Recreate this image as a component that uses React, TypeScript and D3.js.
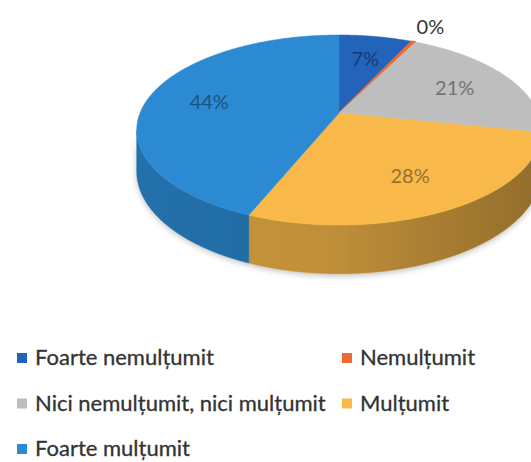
import React from 'react';
import * as d3 from 'd3';

const categories = [
  'Foarte nemulțumit',
  'Nemulțumit',
  'Nici nemulțumit, nici mulțumit',
  'Mulțumit',
  'Foarte mulțumit',
];
const values = [7, 0.4, 21, 28, 44];
const valueLabels = ['7%', '0%', '21%', '28%', '44%'];
const sliceColors = ['#2363BA', '#EE6A2E', '#BEBEBE', '#F9B94A', '#2C8AD3'];

const W = 531;
const H = 462;
// projected pie geometry (perspective ellipse)
const CX = 339;
const CY = 113;
const RX = 199;
const RY = 92;
const K = -0.179;
const DEPTH = 40;

function proj(theta: number, r: number, z = 0): [number, number] {
  const u = r * Math.sin(theta);
  const v = -r * Math.cos(theta);
  const den = 1 + K * v;
  return [CX + (RX * u) / den, CY + (RY * v) / den + (z * DEPTH) / den];
}

function arcPoints(a0: number, a1: number, r: number, z = 0): [number, number][] {
  const n = Math.max(2, Math.ceil((a1 - a0) / 0.01));
  const pts: [number, number][] = [];
  for (let i = 0; i <= n; i++) pts.push(proj(a0 + ((a1 - a0) * i) / n, r, z));
  return pts;
}

export default function App() {
  const color = d3.scaleOrdinal<string, string>().domain(categories).range(sliceColors);
  const pie = d3
    .pie<number>()
    .sort(null)
    .startAngle(0)
    .endAngle(2 * Math.PI);
  const arcs = pie(values);
  const line = d3.line<[number, number]>().curve(d3.curveLinear);

  const visA = Math.acos(K);
  const visB = 2 * Math.PI - visA;

  const walls = arcs
    .map((a, i) => {
      const a0 = Math.max(a.startAngle, visA);
      const a1 = Math.min(a.endAngle, visB);
      if (a1 <= a0) return null;
      const top = arcPoints(a0, a1, 1, 0);
      const bot = arcPoints(a0, a1, 1, 1).reverse();
      return { i, d: line([...top, ...bot])! + 'Z' };
    })
    .filter(Boolean) as { i: number; d: string }[];

  const allWall = (() => {
    const top = arcPoints(visA, visB, 1, 0);
    const bot = arcPoints(visA, visB, 1, 1).reverse();
    return line([...top, ...bot])! + 'Z';
  })();

  const tops = arcs.map((a, i) => {
    const pts = [proj(0, 0), ...arcPoints(a.startAngle, a.endAngle, 1, 0)];
    return { i, d: line(pts)! + 'Z' };
  });

  const labels = arcs.map((a, i) => {
    const mid = (a.startAngle + a.endAngle) / 2;
    const outside = a.value < 1;
    const [x, y] = proj(mid, outside ? 1.27 : 0.68, 0);
    const c = color(categories[i]);
    return {
      i,
      x,
      y,
      text: valueLabels[i],
      fill: outside ? '#333333' : d3.color(c)!.darker(1.4).formatHex(),
    };
  });

  const legendX = [17, 342];
  const legendRowY = d3.scaleLinear().domain([0, 1]).range([365, 410.5]);

  return (
    <svg width={W} height={H} style={{ position: 'absolute', left: 0, top: 0, background: '#fff' }}>
      <defs>
        <linearGradient id="wallShade" x1="137" x2="531" y1="0" y2="0" gradientUnits="userSpaceOnUse">
          <stop offset="0" stopColor="#000" stopOpacity={0.05} />
          <stop offset="0.5" stopColor="#000" stopOpacity={0.1} />
          <stop offset="1" stopColor="#000" stopOpacity={0.3} />
        </linearGradient>
        <filter id="shadow" x="-20%" y="-20%" width="140%" height="140%">
          <feGaussianBlur stdDeviation="3" />
        </filter>
      </defs>
      <g>
        <path d={allWall} fill="#000" opacity={0.25} filter="url(#shadow)" transform="translate(0,2)" />
        {walls.map((w) => (
          <path
            key={'w' + w.i}
            d={w.d}
            fill={d3.color(color(categories[w.i]))!.darker(0.45).formatHex()}
            stroke={d3.color(color(categories[w.i]))!.darker(0.45).formatHex()}
            strokeWidth={0.5}
          />
        ))}
        <path d={allWall} fill="url(#wallShade)" />
        {tops.map((t) => (
          <path
            key={'t' + t.i}
            d={t.d}
            fill={color(categories[t.i])}
            stroke={color(categories[t.i])}
            strokeWidth={t.i === 1 ? 1.5 : 0.5}
            strokeLinejoin="round"
          />
        ))}
        {labels.map((l) => (
          <text
            key={'l' + l.i}
            x={l.x}
            y={l.y}
            textAnchor="middle"
            dominantBaseline="central"
            fontFamily="Lato, 'Open Sans', sans-serif"
            fontSize={20}
            fill={l.fill}
          >
            {l.text}
          </text>
        ))}
      </g>
      <g fontFamily="Lato, 'Open Sans', sans-serif" fontSize={22} fill="#333" stroke="#333" strokeWidth={0.3}>
        {categories.map((c, i) => {
          const col = i % 2;
          const row = Math.floor(i / 2);
          const x = legendX[col];
          const y = legendRowY(row);
          return (
            <g key={'lg' + i}>
              <rect x={x} y={y - 12} width={10} height={10} fill={color(c)} stroke="none" />
              <text x={x + 18} y={y}>
                {c}
              </text>
            </g>
          );
        })}
      </g>
    </svg>
  );
}
